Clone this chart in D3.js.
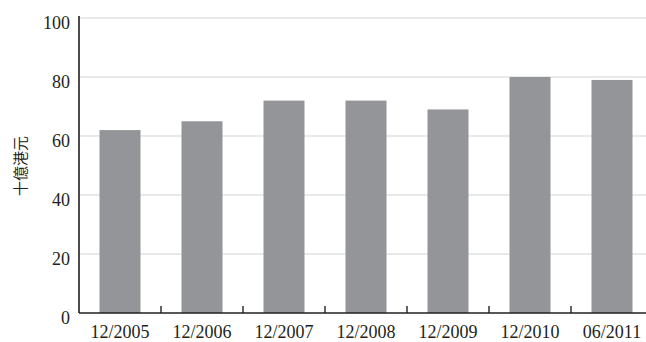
<!DOCTYPE html>
<html>
<head>
<meta charset="utf-8">
<script src="https://cdn.jsdelivr.net/npm/d3@7"></script>
<style>
  html, body { margin: 0; padding: 0; background: #fff; }
  svg { display: block; }
  svg text { font-family: "Liberation Serif", serif; }
  svg text.cjk { font-family: "Noto Sans CJK TC", sans-serif; }
</style>
</head>
<body>
<svg id="chart" width="646" height="342"></svg>
<script>
// Periods and amounts (HK$ billion)
const periods = ["12/2005", "12/2006", "12/2007", "12/2008", "12/2009", "12/2010", "06/2011"];
const amounts = [62, 65, 72, 72, 69, 80, 79];
const yTicks = [0, 20, 40, 60, 80, 100];
const yTitle = "十億港元";

(function draw() {
  const svg = d3.select("#chart");
  const plotLeft = 79, bandEnd = 653, plotTop = 18, plotBottom = 313, plotRight = 646;

  const x = d3.scaleBand().domain(periods).range([plotLeft, bandEnd])
    .paddingInner(0.5).paddingOuter(0.25);
  const y = d3.scaleLinear().domain([0, 100]).range([plotBottom, plotTop]);

  // horizontal gridlines
  svg.append("g").selectAll("line").data(yTicks.filter(d => d > 0)).join("line")
    .attr("x1", plotLeft).attr("x2", plotRight)
    .attr("y1", d => y(d)).attr("y2", d => y(d))
    .attr("stroke", "#d1d3d4").attr("stroke-width", 1.2);

  // bars
  svg.append("g").selectAll("rect").data(periods).join("rect")
    .attr("x", d => x(d)).attr("width", x.bandwidth())
    .attr("y", (d, i) => y(amounts[i]))
    .attr("height", (d, i) => y(0) - y(amounts[i]))
    .attr("fill", "#939598");

  // y axis labels
  svg.append("g").selectAll("text").data(yTicks).join("text")
    .attr("x", 70).attr("y", d => y(d) + 10.5)
    .attr("text-anchor", "end")
    .style("font-size", "18px").attr("fill", "#231f20")
    .text(d => d);

  // axis lines
  svg.append("line").attr("x1", plotLeft).attr("x2", plotLeft)
    .attr("y1", plotTop - 2).attr("y2", plotBottom)
    .attr("stroke", "#231f20").attr("stroke-width", 1.6);
  svg.append("line").attr("x1", plotLeft).attr("x2", plotRight)
    .attr("y1", plotBottom).attr("y2", plotBottom)
    .attr("stroke", "#231f20").attr("stroke-width", 1.6);

  // ticks between categories
  const step = x.step();
  svg.append("g").selectAll("line").data(periods.slice(1)).join("line")
    .attr("x1", d => x(d) - step * 0.25).attr("x2", d => x(d) - step * 0.25)
    .attr("y1", plotBottom).attr("y2", plotBottom - 7)
    .attr("stroke", "#231f20").attr("stroke-width", 1.4);

  // category labels
  svg.append("g").selectAll("text").data(periods).join("text")
    .attr("x", d => x(d) + x.bandwidth() / 2).attr("y", 338)
    .attr("text-anchor", "middle")
    .style("font-size", "18px").attr("fill", "#231f20")
    .text(d => d);

  // y axis title
  svg.append("text").attr("class", "cjk")
    .attr("transform", "translate(26,166) rotate(-90)")
    .attr("text-anchor", "middle")
    .style("font-size", "15px").attr("fill", "#231f20")
    .text(yTitle);
})();
</script>
</body>
</html>
